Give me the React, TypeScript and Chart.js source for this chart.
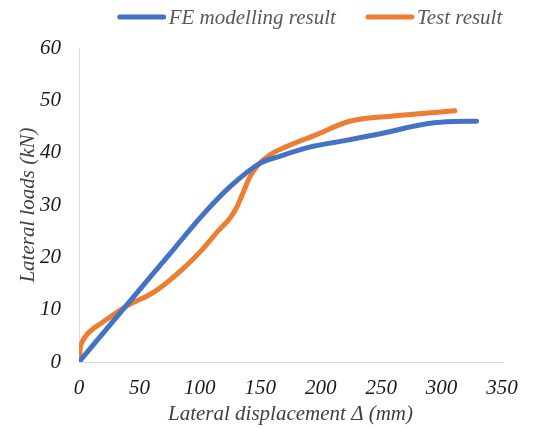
import React, { useEffect, useRef } from "react";
import { Chart, registerables } from "chart.js";

Chart.register(...registerables);

// Lateral displacement (mm) vs lateral load (kN)
const feDisp = [0, 25, 50, 75, 100, 125, 150, 166, 190, 222, 255, 282, 304, 329];
const feLoad = [0, 6.9, 13.8, 20.6, 27.5, 33.5, 38, 39.3, 41, 42.4, 43.9, 45.3, 45.9, 46];

const testDisp = [0, 1, 3, 7.5, 19, 38, 63, 85, 100, 115, 125, 131, 136, 141, 148, 158, 172, 195, 224, 260, 311];
const testLoad = [0, 2.5, 4, 5.5, 7.5, 10.5, 13.5, 17.6, 21, 25, 27.5, 29.8, 32.5, 35.2, 37.6, 39.6, 41.2, 43.3, 46, 47, 48];

const seriesNames = ["FE modelling result", "Test result"];
const seriesColors = ["#4472C4", "#ED7D31"];

const xTicks = [0, 50, 100, 150, 200, 250, 300, 350];
const yTicks = [0, 10, 20, 30, 40, 50, 60];

const FONT = "'Liberation Serif', 'Times New Roman', serif";
const FONT_SIZE = 21;

const pairs = (xs: number[], ys: number[]) => xs.map((x, i) => ({ x, y: ys[i] }));

// Legend drawn as short thick lines followed by italic labels, centred above the plot
const lineLegend = {
  id: "lineLegend",
  afterDraw(chart: any) {
    const ctx = chart.ctx as CanvasRenderingContext2D;
    ctx.save();
    ctx.font = `italic ${FONT_SIZE}px ${FONT}`;
    ctx.textBaseline = "middle";
    const lineLen = 48;
    const gap = 3;
    const itemGap = 30;
    const widths = chart.data.datasets.map((d: any) => ctx.measureText(d.label).width);
    const total = widths.reduce((a: number, w: number) => a + lineLen + gap + w, 0) + itemGap * (widths.length - 1);
    let x = 310 - total / 2;
    const y = 17;
    chart.data.datasets.forEach((d: any, i: number) => {
      ctx.strokeStyle = d.borderColor;
      ctx.lineWidth = 5;
      ctx.lineCap = "round";
      ctx.beginPath();
      ctx.moveTo(x + 2, y);
      ctx.lineTo(x + lineLen - 2, y);
      ctx.stroke();
      ctx.fillStyle = "#595959";
      ctx.fillText(d.label, x + lineLen + gap, y + 1);
      x += lineLen + gap + widths[i] + itemGap;
    });
    ctx.restore();
  },
};

const tickFont = { family: FONT, size: FONT_SIZE, style: "italic" as const };

export default function App() {
  const ref = useRef<HTMLCanvasElement | null>(null);

  useEffect(() => {
    if (!ref.current) return;
    const chart = new Chart(ref.current, {
      type: "scatter",
      data: {
        datasets: [
          {
            label: seriesNames[0],
            data: pairs(feDisp, feLoad),
            borderColor: seriesColors[0],
            backgroundColor: seriesColors[0],
            borderWidth: 5,
            showLine: true,
            pointRadius: 0,
            cubicInterpolationMode: "monotone",
            borderCapStyle: "round",
            borderJoinStyle: "round",
          },
          {
            label: seriesNames[1],
            data: pairs(testDisp, testLoad),
            borderColor: seriesColors[1],
            backgroundColor: seriesColors[1],
            borderWidth: 5,
            showLine: true,
            pointRadius: 0,
            cubicInterpolationMode: "monotone",
            borderCapStyle: "round",
            borderJoinStyle: "round",
          },
        ],
      },
      options: {
        animation: false,
        responsive: false,
        layout: { padding: { top: 48, right: 39, left: 16, bottom: 2 } },
        plugins: {
          legend: { display: false },
          tooltip: { enabled: false },
        },
        scales: {
          x: {
            type: "linear",
            min: 0,
            max: 350,
            afterBuildTicks: (axis: any) => {
              axis.ticks = xTicks.map((v) => ({ value: v }));
            },
            afterFit: (axis: any) => {
              axis.height = 65;
            },
            grid: { display: false, drawTicks: false },
            border: { display: true, color: "#D9D9D9", width: 1 },
            ticks: {
              color: "#1a1a1a",
              font: tickFont,
              padding: 14,
              maxRotation: 0,
            },
            title: {
              display: true,
              text: "Lateral displacement Δ (mm)",
              color: "#404040",
              font: tickFont,
              padding: { top: 3, bottom: 0 },
            },
          },
          y: {
            type: "linear",
            min: 0,
            max: 60,
            afterBuildTicks: (axis: any) => {
              axis.ticks = yTicks.map((v) => ({ value: v }));
            },
            afterFit: (axis: any) => {
              axis.width = 63;
            },
            grid: { display: false, drawTicks: false },
            border: { display: true, color: "#D9D9D9", width: 1 },
            ticks: {
              color: "#1a1a1a",
              font: tickFont,
              padding: 18,
            },
            title: {
              display: true,
              text: "Lateral loads (kN)",
              color: "#404040",
              font: tickFont,
              padding: { top: 0, bottom: 0 },
            },
          },
        },
      },
      plugins: [lineLegend],
    });
    return () => chart.destroy();
  }, []);

  return (
    <canvas
      ref={ref}
      width={541}
      height={429}
      style={{ position: "fixed", left: 0, top: 0, width: 541, height: 429, background: "#fff" }}
    />
  );
}
